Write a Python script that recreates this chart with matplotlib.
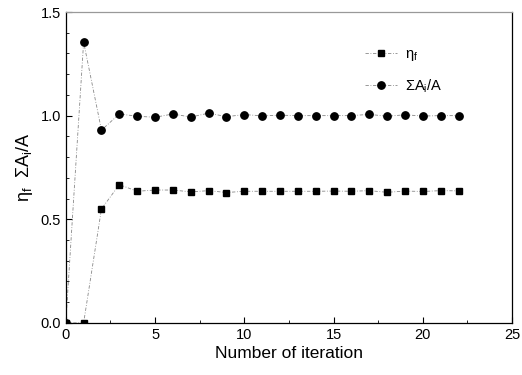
import matplotlib
matplotlib.use("Agg")
import matplotlib.pyplot as plt
from matplotlib.ticker import MultipleLocator

plt.rcParams['font.family'] = ['Liberation Sans', 'DejaVu Sans']
plt.rcParams['mathtext.default'] = 'regular'

iterations = list(range(0, 23))
eta_f = [0.0, 0.0, 0.55, 0.667, 0.635, 0.641, 0.641, 0.632, 0.638, 0.629,
         0.635, 0.635, 0.635, 0.635, 0.635, 0.636, 0.635, 0.638, 0.630, 0.636,
         0.634, 0.638, 0.637]
sum_ai_a = [0.0, 1.355, 0.93, 1.008, 0.997, 0.992, 1.008, 0.993, 1.012, 0.995,
            1.005, 0.999, 1.002, 1.0, 1.0, 1.0, 1.0, 1.006, 0.997, 1.004,
            0.998, 1.0, 1.0]

fig = plt.figure(figsize=(5.22, 3.75), dpi=100)
ax = fig.add_axes([0.126, 0.139, 0.855, 0.829])

ax.plot(iterations, eta_f, linestyle=(0, (4, 2, 1, 2)), color='#888888', lw=0.6,
        marker='s', markersize=5, markerfacecolor='black', markeredgecolor='black',
        label='η$_f$')
ax.plot(iterations, sum_ai_a, linestyle=(0, (4, 2, 1, 2)), color='#888888', lw=0.6,
        marker='o', markersize=5.3, markerfacecolor='black', markeredgecolor='black',
        label='ΣA$_i$/A')

ax.set_xlim(0, 25)
ax.set_ylim(0, 1.5)
ax.xaxis.set_major_locator(MultipleLocator(5))
ax.xaxis.set_minor_locator(MultipleLocator(2.5))
ax.yaxis.set_major_locator(MultipleLocator(0.5))
ax.yaxis.set_minor_locator(MultipleLocator(0.1))
ax.tick_params(which='both', direction='in', top=False, right=False, labelsize=10.5)
ax.tick_params(which='major', length=4)
ax.tick_params(which='minor', length=2)
ax.set_yticks([0, 0.5, 1.0, 1.5])
ax.set_yticklabels(['0.0', '0.5', '1.0', '1.5'])

ax.set_xlabel('Number of iteration', fontsize=12.5, labelpad=3)
ax.set_ylabel('η$_f$  ΣA$_i$/A', fontsize=13, labelpad=4)

for s in ax.spines.values():
    s.set_linewidth(0.9)
ax.spines['top'].set_color('#999999')

ax.legend(loc='upper left', bbox_to_anchor=(0.64, 0.93), frameon=False,
          handlelength=2.2, fontsize=10.5, labelspacing=1.0, handletextpad=0.6)

fig.savefig('out.png', dpi=100)
